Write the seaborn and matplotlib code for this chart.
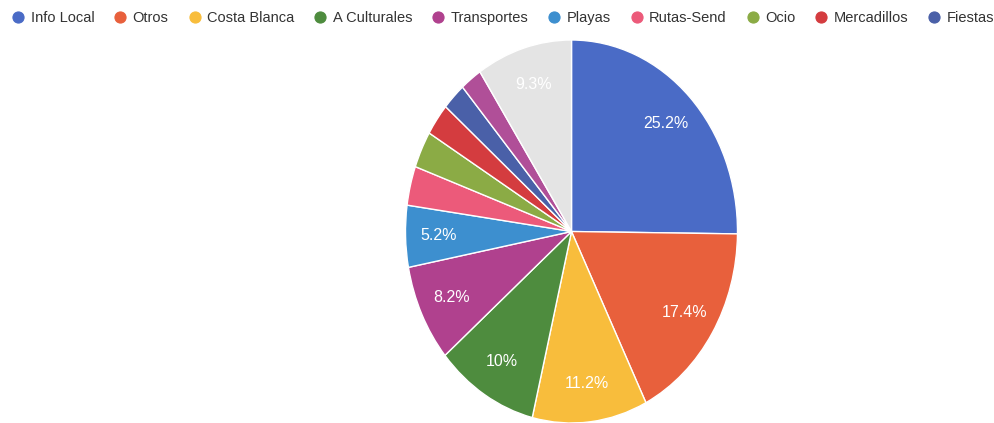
import matplotlib
matplotlib.use("Agg")
import matplotlib.pyplot as plt
import seaborn as sns
from matplotlib.lines import Line2D

# ---- data ----
categories = ["Info Local", "Otros", "Costa Blanca", "A Culturales", "Transportes",
              "Playas", "Rutas-Send", "Ocio", "Mercadillos", "Fiestas"]
values = [25.2, 17.4, 11.2, 10.0, 8.2, 5.2, 3.3, 3.1, 2.7, 2.3]
extra_categories = ["Resto", "Other"]
extra_values = [2.1, 9.3]

colors = ["#4a6bc6", "#e8603c", "#f8bd3c", "#4e8c3e", "#b0418e",
          "#3d8fcf", "#ec5a7a", "#8bab45", "#d43c3f", "#4a60a8"]
extra_colors = ["#b04f98", "#e4e4e4"]

sns.set_theme(style="white")
plt.rcParams["font.family"] = ["Liberation Sans", "DejaVu Sans"]

all_vals = values + extra_values
all_cols = sns.color_palette(colors + extra_colors)

fig = plt.figure(figsize=(9.95, 4.23), dpi=100)
ax = fig.add_axes([405.5 / 995, 0.0, 332 / 995, 383 / 423])


def fmt(p):
    if p < 5:
        return ""
    s = f"{p:.1f}"
    if s.endswith(".0"):
        s = s[:-2]
    return s + "%"


wedges, texts, autotexts = ax.pie(
    all_vals, colors=all_cols, startangle=90, counterclock=False,
    autopct=fmt, pctdistance=0.8,
    wedgeprops=dict(edgecolor="white", linewidth=1.0),
    textprops=dict(color="white", fontsize=11.5, fontweight="medium"),
)
ax.set_aspect("auto")
ax.set_xlim(-1, 1)
ax.set_ylim(-1, 1)
ax.axis("off")

handles = [Line2D([0], [0], marker="o", linestyle="", markersize=8,
                  markerfacecolor=c, markeredgecolor=c, markeredgewidth=0.8)
           for c in all_cols[:len(categories)]]
fig.legend(handles, categories, loc="center left", bbox_to_anchor=(0.008, 0.957),
           ncol=len(categories), frameon=False, fontsize=10.5,
           handlelength=0.8, handletextpad=0.45, columnspacing=1.38,
           borderaxespad=0.0, borderpad=0.3, labelcolor="#333333")

fig.savefig("out.png", dpi=100)
